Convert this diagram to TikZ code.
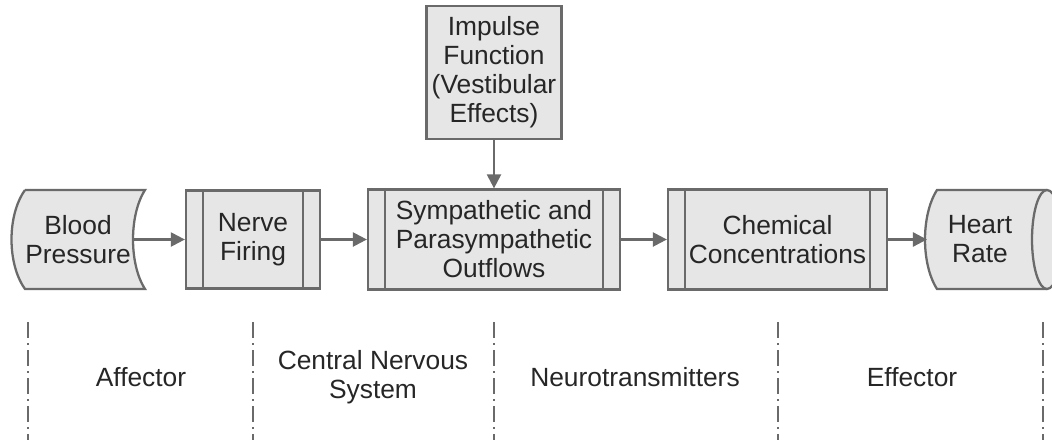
\documentclass[tikz,border=0pt]{standalone}
\usepackage{fontspec}
\setmainfont{Liberation Sans}
\usetikzlibrary{arrows.meta,positioning}
\definecolor{boxline}{HTML}{6A6A6A}
\definecolor{boxfill}{HTML}{E6E6E6}
\definecolor{inktext}{HTML}{262626}
\tikzset{
  stage/.style={draw=boxline,fill=boxfill,line width=1.3pt,align=center,text=inktext,inner sep=0pt},
  process/.style={stage,path picture={
      \draw[boxline,line width=1.3pt] ([xshift=0.34cm]path picture bounding box.north west) -- ([xshift=0.34cm]path picture bounding box.south west);
      \draw[boxline,line width=1.3pt] ([xshift=-0.34cm]path picture bounding box.north east) -- ([xshift=-0.34cm]path picture bounding box.south east);}},
  flow/.style={draw=boxline,line width=1.3pt,-{Triangle[length=8pt,width=8pt]}},
  zone/.style={draw=boxline,line width=0.8pt,dash pattern=on 9pt off 3pt on 1pt off 3pt},
  zonetext/.style={text=inktext,align=center}
}
\begin{document}
\begin{tikzpicture}[x=0.02cm,y=-0.02cm,font=\fontsize{15}{16.5}\selectfont]
  \useasboundingbox (0,0) rectangle (1052,440);
  % affector and effector shapes
  \draw[stage] (25,190) -- (145,190) .. controls (129,215) and (129,264) .. (145,289)
    -- (25,289) .. controls (7,264) and (7,215) .. (25,190);
  \draw[stage] (1047,190) -- (937,190) .. controls (921,215) and (921,264) .. (937,289) -- (1047,289);
  \draw[stage] (1047,239.5) ellipse [x radius=0.3cm, y radius=0.99cm];
  % nodes
  \node[zonetext] (pressure) at (78,239.5) {Blood\\Pressure};
  \coordinate (pressureout) at (134,239.5);
  \node[process,minimum width=2.68cm,minimum height=1.96cm] (firing) at (253,239.5) {Nerve\\Firing};
  \node[process,minimum width=5.04cm,minimum height=2cm] (outflow) at (494,239.5) {Sympathetic and\\Parasympathetic\\Outflows};
  \node[stage,minimum width=2.7cm,minimum height=2.66cm] (impulse) at (494,72.5) {Impulse\\Function\\(Vestibular\\Effects)};
  \node[process,minimum width=4.38cm,minimum height=2cm] (chemical) at (777.5,239.5) {Chemical\\Concentrations};
  \node[zonetext] (heart) at (980,239.5) {Heart\\Rate};
  \coordinate (heartin) at (927,239.5);
  % arrows
  \draw[flow] (pressureout) -- (firing);
  \draw[flow] (firing) -- (outflow);
  \draw[flow] (impulse) -- (outflow);
  \draw[flow] (outflow) -- (chemical);
  \draw[flow] (chemical) -- (heartin);
  % zones
  \foreach \x in {28,253,494,778,1043}
    \draw[zone] (\x,322) -- (\x,440);
  \node[zonetext] (affector) at (141,377) {Affector};
  \node[zonetext] (cns) at (373,377) {Central Nervous\\System};
  \node[zonetext] (neuro) at (635,377) {Neurotransmitters};
  \node[zonetext] (effector) at (912,377) {Effector};
\end{tikzpicture}
\end{document}
